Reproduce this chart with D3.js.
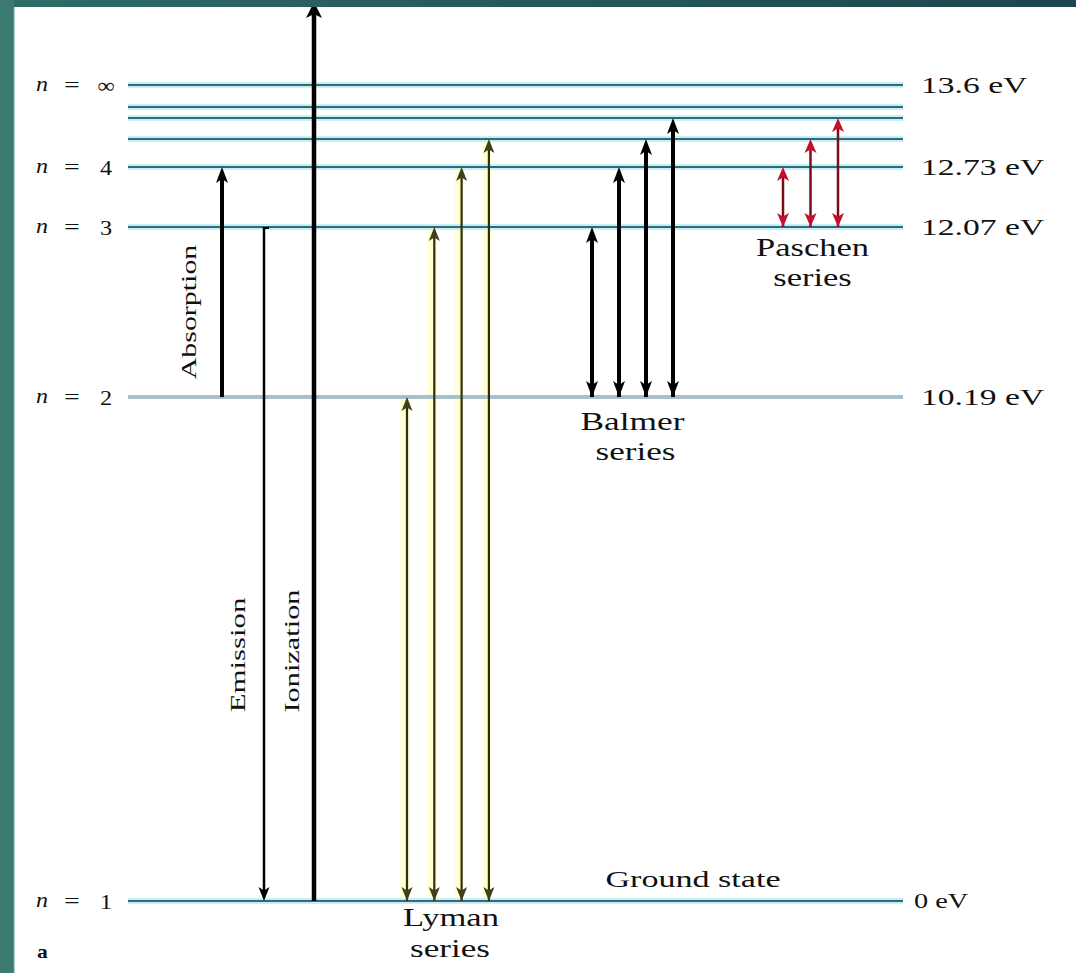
<!DOCTYPE html>
<html><head><meta charset="utf-8">
<script src="https://cdn.jsdelivr.net/npm/d3@7"></script>
<style>html,body{margin:0;padding:0;background:#fff;overflow:hidden}svg{display:block}</style>
</head><body>
<script>
// ---------- data ----------
const levelN        = ["1", "2", "3", "4", "5", "6", "7", "∞"];
const levelEnergy   = [0, 10.19, 12.07, 12.73, 13.06, 13.22, 13.32, 13.6];
const labeledLevels = ["1", "2", "3", "4", "∞"];
const energyLabels  = ["0 eV", "10.19 eV", "12.07 eV", "12.73 eV", "13.6 eV"];
const lymanUpper    = ["2", "3", "4", "5"];   // lower level n = 1
const balmerUpper   = ["3", "4", "5", "6"];   // lower level n = 2
const paschenUpper  = ["4", "5", "6"];        // lower level n = 3
const singleNames   = ["Absorption", "Emission", "Ionization"];
const singleFrom    = ["2", "3", "1"];
const singleTo      = ["4", "1", "free"];
const seriesNames   = ["Lyman", "Balmer", "Paschen"];
const freeEnergy    = 14.6;   // continuum (arrow leaves the picture)

// ---------- layout ----------
const W = 1076, H = 973;
const svg = d3.select("body").append("svg").attr("width", W).attr("height", H);
const energyOf = n => n === "free" ? freeEnergy : levelEnergy[levelN.indexOf(n)];
const y = d3.scaleLinear()
  .domain([...levelEnergy, freeEnergy])
  .range([901, 397, 227, 167, 139, 118, 107, 85, 2]);
const x = d3.scaleLinear().domain([0, 1]).range([128, 903]);
const STRETCH = 1.38;
const SERIF = "'Liberation Serif', 'DejaVu Serif', serif";

svg.append("rect").attr("width", W).attr("height", H).attr("fill", "#fff");

// ---------- text helper ----------
function label(g, str, cx, cy, size, opts = {}) {
  const rot = opts.rotate || 0;
  return g.append("text")
    .attr("transform", `translate(${cx},${cy}) rotate(${rot}) scale(${opts.sx || STRETCH},1)`)
    .attr("text-anchor", opts.anchor || "middle")
    .attr("dominant-baseline", "central")
    .attr("font-family", SERIF)
    .attr("font-size", size)
    .attr("font-style", opts.italic ? "italic" : "normal")
    .attr("font-weight", opts.weight || "normal")
    .attr("fill", opts.fill || "#111")
    .text(str);
}

// ---------- arrows helpers ----------
function head(g, xx, tipY, dir, w, len, color) {
  const b = tipY - dir * len;
  const notch = tipY - dir * len * 0.75;
  g.append("path")
    .attr("d", `M${xx},${tipY} L${xx - w / 2},${b} L${xx},${notch} L${xx + w / 2},${b} Z`)
    .attr("fill", color);
}
function arrow(g, xx, yFrom, yTo, o) {
  const dir = yTo < yFrom ? -1 : 1;
  g.append("line").attr("x1", xx).attr("x2", xx)
    .attr("y1", yFrom).attr("y2", yTo - dir * o.len * 0.5)
    .attr("stroke", o.color).attr("stroke-width", o.sw);
  head(g, xx, yTo, dir, o.hw, o.len, o.headColor || o.color);
  if (o.both) head(g, xx, yFrom, -dir, o.hw, o.len, o.headColor || o.color);
}

const seriesDefs = [
  {upper: lymanUpper, lower: "1", x0: 407, step: 27.3,
   style: {color: "#2e2e12", headColor: "#404018", sw: 2.2, hw: 11, len: 14, both: true, glow: "#ffffd2"}},
  {upper: balmerUpper, lower: "2", x0: 592, step: 27,
   style: {color: "#000", sw: 4, hw: 12, len: 16, both: true}},
  {upper: paschenUpper, lower: "3", x0: 783, step: 27.5,
   style: {color: "#7a0e1c", headColor: "#c4102c", sw: 2.5, hw: 12, len: 14, both: true}}
];

// yellow glow behind Lyman lines (drawn below the level lines)
const glowG = svg.append("g");
seriesDefs[0].upper.forEach((u, j) => {
  const xx = seriesDefs[0].x0 + j * seriesDefs[0].step;
  glowG.append("line").attr("x1", xx - 2).attr("x2", xx - 2)
    .attr("y1", y(energyOf(u))).attr("y2", y(energyOf(seriesDefs[0].lower)))
    .attr("stroke", seriesDefs[0].style.glow).attr("stroke-width", 9);
});

// ---------- energy levels ----------
const lv = svg.append("g");
levelN.forEach((n, i) => {
  const yy = y(levelEnergy[i]);
  if (n === "2") {
    lv.append("line").attr("x1", x(0)).attr("x2", x(1)).attr("y1", yy).attr("y2", yy)
      .attr("stroke", "#a9bfcc").attr("stroke-width", 4);
  } else {
    lv.append("line").attr("x1", x(0)).attr("x2", x(1)).attr("y1", yy).attr("y2", yy)
      .attr("stroke", "#c8f0f4").attr("stroke-width", 6);
    lv.append("line").attr("x1", x(0)).attr("x2", x(1)).attr("y1", yy).attr("y2", yy)
      .attr("stroke", "#2f6b78").attr("stroke-width", 2);
  }
});

const txt = svg.append("g");
// left labels: n = ...
labeledLevels.forEach(n => {
  const yy = y(energyOf(n));
  label(txt, "n", 36, yy - 1, 20, {anchor: "start", italic: true, sx: 1.2});
  label(txt, "=", 72, yy, 20, {sx: 1.4});
  label(txt, n, 106, yy, 22, {sx: 1.1});
});
// right labels: energies
labeledLevels.forEach((n, i) => {
  const yy = y(energyOf(n));
  const isZero = n === "1";
  label(txt, energyLabels[i], isZero ? 914 : 921, yy, isZero ? 21 : 24, {anchor: "start", sx: isZero ? 1.35 : 1.4});
});
label(txt, "a", 37, 952, 18, {anchor: "start", weight: "bold", sx: 1.2});
label(txt, "Ground state", 693, 879, 24, {sx: 1.42});

// ---------- arrows ----------
const ar = svg.append("g");
const singleX = [222, 264, 314];
const singleStyle = [
  {color: "#000", sw: 4, hw: 12, len: 16},
  {color: "#000", sw: 2.5, hw: 11, len: 14},
  {color: "#000", sw: 4.5, hw: 16, len: 16}
];
singleNames.forEach((nm, i) => {
  arrow(ar, singleX[i], y(energyOf(singleFrom[i])), y(energyOf(singleTo[i])), singleStyle[i]);
});
ar.append("line").attr("x1", singleX[1]).attr("x2", singleX[1] + 5)
  .attr("y1", y(energyOf("3")) + 1).attr("y2", y(energyOf("3")) + 1)
  .attr("stroke", "#000").attr("stroke-width", 2);

// rotated labels
label(txt, singleNames[0], 189, 312, 22, {rotate: -90, sx: 1.36});
label(txt, singleNames[1], 238, 655, 22, {rotate: -90, sx: 1.4});
label(txt, singleNames[2], 292, 651, 22, {rotate: -90, sx: 1.38});

seriesDefs.forEach(s => {
  s.upper.forEach((u, j) => {
    arrow(ar, s.x0 + j * s.step, y(energyOf(s.lower)), y(energyOf(u)), s.style);
  });
});
// series labels
const lymC = seriesDefs[0].x0 + seriesDefs[0].step * 1.5;
const balC = seriesDefs[1].x0 + seriesDefs[1].step * 1.5;
const pasC = seriesDefs[2].x0 + seriesDefs[2].step * 1.0;
label(txt, seriesNames[0], lymC + 3, 918, 26, {sx: 1.33});
label(txt, "series", lymC + 2, 948, 26, {sx: 1.35});
label(txt, seriesNames[1], balC, 421, 26, {sx: 1.36});
label(txt, "series", balC + 3, 451, 26, {sx: 1.35});
label(txt, seriesNames[2], pasC + 2, 248, 25, {sx: 1.38});
label(txt, "series", pasC + 2, 278, 25, {sx: 1.38});

// ---------- teal frame ----------
const defs = svg.append("defs");
const gr = defs.append("linearGradient").attr("id", "tg").attr("x1", 0).attr("x2", 1);
gr.append("stop").attr("offset", 0).attr("stop-color", "#2e6c66");
gr.append("stop").attr("offset", 1).attr("stop-color", "#1c4650");
svg.append("rect").attr("x", 0).attr("y", 0).attr("width", W).attr("height", 7).attr("fill", "url(#tg)");
svg.append("rect").attr("x", 0).attr("y", 0).attr("width", 14).attr("height", H).attr("fill", "#3a7a70");
svg.append("line").attr("x1", 14).attr("x2", 14).attr("y1", 7).attr("y2", H).attr("stroke", "#6f9d96").attr("stroke-width", 1);
</script>
</body></html>
